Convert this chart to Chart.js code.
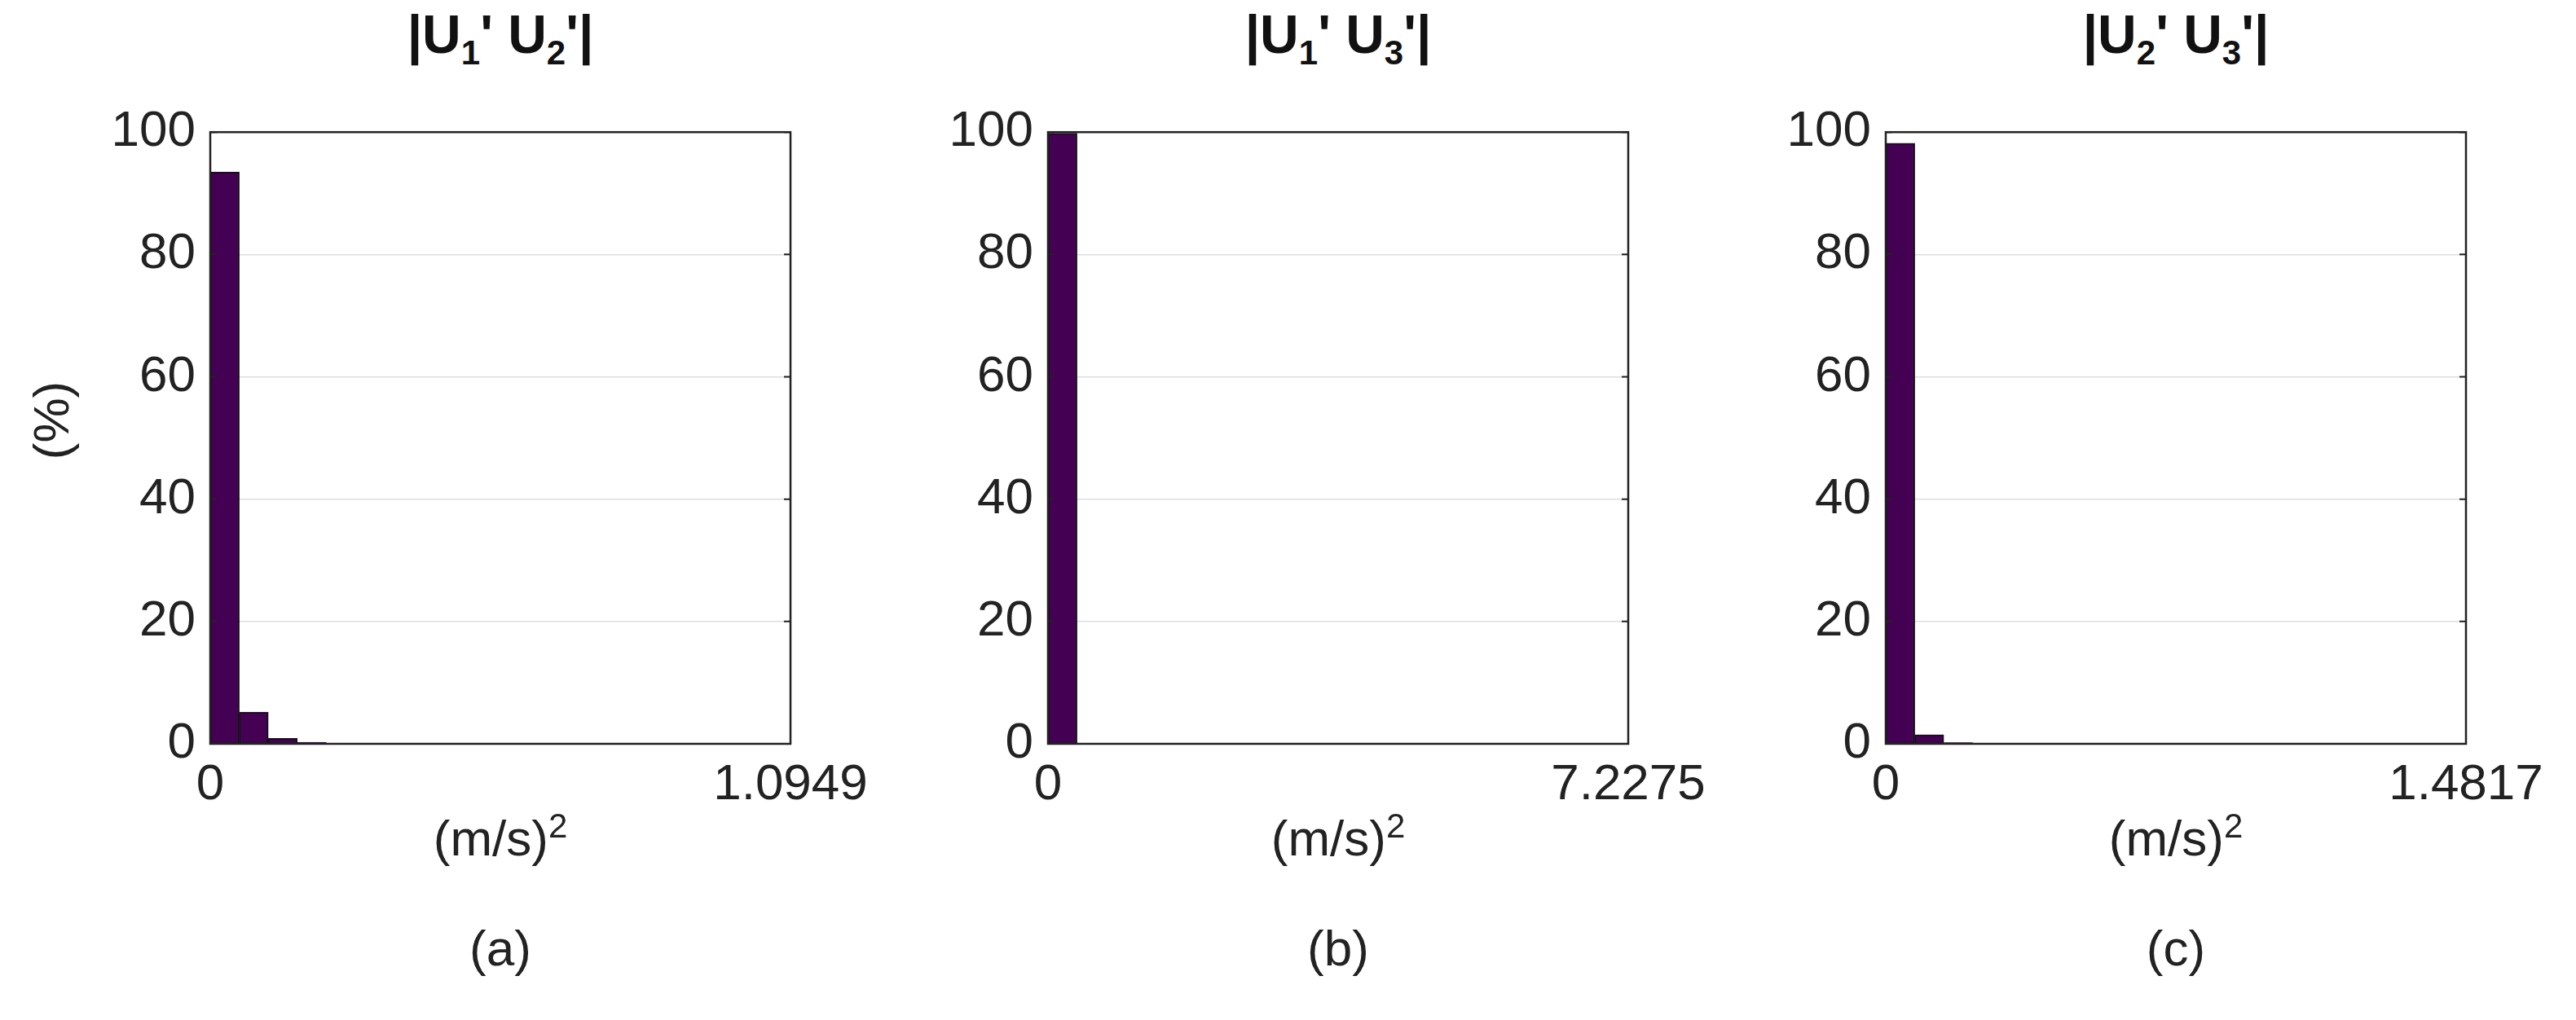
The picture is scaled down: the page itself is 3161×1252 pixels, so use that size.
<!DOCTYPE html>
<html><head><meta charset="utf-8">
<script src="https://cdn.jsdelivr.net/npm/chart.js@4"></script>
<style>
body{margin:0;width:3161px;height:1252px;background:#fff;position:relative;font-family:"Liberation Sans",Arial,sans-serif;color:#222;overflow:hidden}
.c{position:absolute}
.t{position:absolute;font-size:66px;font-weight:bold;transform:translateX(-50%);white-space:nowrap;top:4px;color:#111}
.t sub{font-size:42px}
.xl{position:absolute;font-size:62px;transform:translateX(-50%);top:990px;white-space:nowrap}
.xl sup{font-size:42px}
.cap{position:absolute;font-size:62px;transform:translateX(-50%);top:1128px}
.yl{position:absolute;font-size:62px;left:62px;top:516px;transform:translate(-50%,-50%) rotate(-90deg)}
</style></head><body>
<div class="yl">(%)</div>
<script>
const bins = Array.from({length:20},(_,i)=>String(i+1));
const valuesA = [93.5,5.2,0.9,0.25,0.1,0.05,0.03,0.02,0.02,0.01,0.01,0.01,0.01,0.01,0.01,0.01,0.01,0.01,0.01,0.01];
const valuesB = [99.8,0.1,0.03,0.02,0.02,0.01,0.01,0.01,0.01,0.01,0.01,0.01,0.01,0.01,0.01,0.01,0.01,0.01,0.01,0.01];
const valuesC = [98.2,1.5,0.2,0.06,0.03,0.02,0.02,0.01,0.01,0.01,0.01,0.01,0.01,0.01,0.01,0.01,0.01,0.01,0.01,0.01];
const maxima = [1.0949,7.2275,1.4817];
const maxLabels = ["1.0949","7.2275","1.4817"];
const yTicks = [0,20,40,60,80,100];
const titles = ["|U<sub>1</sub>' U<sub>2</sub>'|","|U<sub>1</sub>' U<sub>3</sub>'|","|U<sub>2</sub>' U<sub>3</sub>'|"];
const caps = ["(a)","(b)","(c)"];
const plotLefts = [258,1286,2314];
const plotW = 712, plotTop = 127, plotH = 786;
const all = [valuesA,valuesB,valuesC];

const frame = {id:'frame',afterDraw(ch){const a=ch.chartArea,c=ch.ctx;c.save();c.strokeStyle='#222';c.lineWidth=2.5;c.strokeRect(a.left,a.top,a.right-a.left,a.bottom-a.top);
 c.lineWidth=2;ch.scales.y.ticks.forEach(t=>{const y=ch.scales.y.getPixelForValue(t.value);c.beginPath();c.moveTo(a.left,y);c.lineTo(a.left+8,y);c.moveTo(a.right,y);c.lineTo(a.right-8,y);c.stroke();});c.restore();}};

all.forEach((vals,i)=>{
  const yW=158, padT=20, xH=90, padR=130;
  const cv=document.createElement('canvas');cv.className='c';
  const W=yW+plotW+padR, H=padT+plotH+xH;
  cv.style.left=(plotLefts[i]-yW)+'px';cv.style.top=(plotTop-padT)+'px';
  cv.style.width=W+'px';cv.style.height=H+'px';cv.width=W;cv.height=H;
  document.body.appendChild(cv);
  const mx=maxima[i];
  new Chart(cv,{type:'bar',data:{labels:bins,datasets:[{data:vals,backgroundColor:'#440154',borderColor:'#111',borderWidth:2,barPercentage:1,categoryPercentage:1,xAxisID:'x',yAxisID:'y'}]},
   options:{responsive:false,animation:false,devicePixelRatio:1,layout:{padding:{top:padT,right:padR,left:0,bottom:0}},
    plugins:{legend:{display:false},tooltip:{enabled:false}},
    scales:{
     x:{display:false},
     x2:{type:'linear',position:'bottom',offset:false,min:0,max:mx,afterBuildTicks(s){s.ticks=[{value:0},{value:mx}];},afterFit(s){s.height=xH;},
        grid:{display:false},border:{display:false},
        ticks:{autoSkip:false,maxRotation:0,font:{size:62,family:'Liberation Sans'},color:'#222',padding:6,callback:v=>v===0?'0':maxLabels[i]}},
     y:{min:0,max:100,afterBuildTicks(s){s.ticks=yTicks.map(v=>({value:v}));},afterFit(s){s.width=yW;},
        grid:{color:'#dedede',lineWidth:1.5,drawTicks:false},border:{display:false},
        ticks:{font:{size:62,family:'Liberation Sans'},color:'#222',padding:18}}
    }},plugins:[frame]});
  const cx=plotLefts[i]+plotW/2;
  const t=document.createElement('div');t.className='t';t.style.left=cx+'px';t.innerHTML=titles[i];document.body.appendChild(t);
  const xl=document.createElement('div');xl.className='xl';xl.style.left=cx+'px';xl.innerHTML='(m/s)<sup>2</sup>';document.body.appendChild(xl);
  const cp=document.createElement('div');cp.className='cap';cp.style.left=cx+'px';cp.textContent=caps[i];document.body.appendChild(cp);
});
</script></body></html>
